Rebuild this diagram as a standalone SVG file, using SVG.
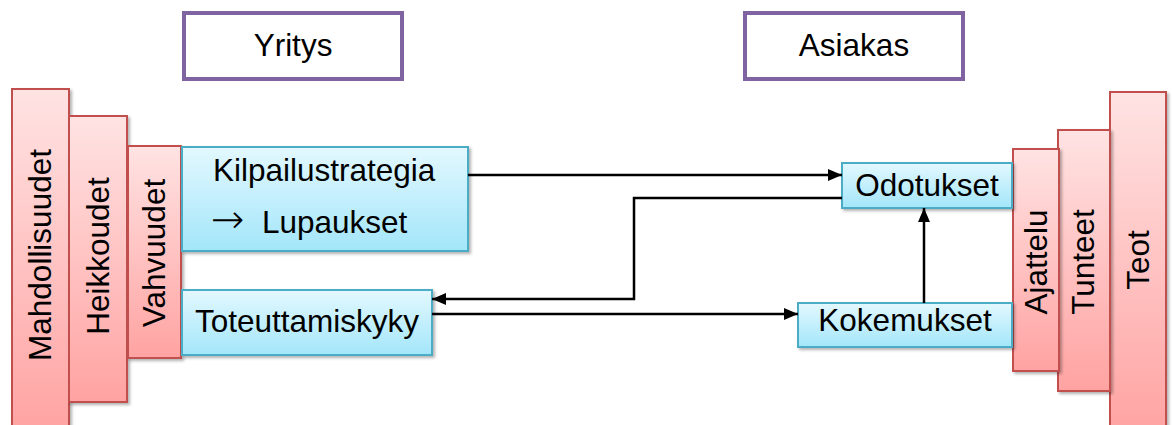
<svg xmlns="http://www.w3.org/2000/svg" width="1172" height="425" viewBox="0 0 1172 425">
<style>
.bar{fill:url(#red);stroke:#C0504D;stroke-width:2;filter:url(#sh)}
.box{fill:url(#blue);stroke:#4BACC6;stroke-width:2;filter:url(#sh)}
.hdr{fill:#fff;stroke:#8064A2;stroke-width:4}
.t{font-family:"Liberation Sans",Arial,sans-serif;font-size:31.5px;fill:#000}
.c{text-anchor:middle}
.v{text-anchor:middle;dominant-baseline:central}
.ln{fill:none;stroke:#000;stroke-width:2.5}
.ar{font-family:"DejaVu Sans",sans-serif;font-weight:200;font-size:40px}
</style>
<defs>
<linearGradient id="red" x1="0" y1="0" x2="0" y2="1">
<stop offset="0" stop-color="#FFE3E3"/>
<stop offset="1" stop-color="#FFA3A2"/>
</linearGradient>
<linearGradient id="blue" x1="0" y1="0" x2="0" y2="1">
<stop offset="0" stop-color="#E3F8FE"/>
<stop offset="1" stop-color="#A3E6FA"/>
</linearGradient>
<filter id="sh" x="-20%" y="-20%" width="140%" height="140%">
<feDropShadow dx="2" dy="2" stdDeviation="1.5" flood-color="#000" flood-opacity="0.3"/>
</filter>
<marker id="ah" markerWidth="14" markerHeight="12" viewBox="0 0 14 12" refX="14" refY="6" orient="auto" markerUnits="userSpaceOnUse">
<path d="M0,0 L14,6 L0,12 z" fill="#000"/>
</marker>
</defs>

<g id="yritys"><rect class="hdr" x="184" y="13" width="218" height="66"/><text class="t c" x="293" y="56">Yritys</text></g>
<g id="asiakas"><rect class="hdr" x="745" y="13" width="218" height="66"/><text class="t c" x="854" y="56">Asiakas</text></g>

<g id="mahdollisuudet"><rect class="bar" x="12" y="89" width="57" height="345"/><text class="t v" transform="translate(40,255) rotate(-90)">Mahdollisuudet</text></g>
<g id="heikkoudet"><rect class="bar" x="69" y="116" width="58" height="286"/><text class="t v" transform="translate(98,256) rotate(-90)">Heikkoudet</text></g>
<g id="vahvuudet"><rect class="bar" x="128" y="146" width="53" height="212"/><text class="t v" transform="translate(154,253) rotate(-90)">Vahvuudet</text></g>

<g id="teot"><rect class="bar" x="1110" y="92" width="56" height="345"/><text class="t v" transform="translate(1138,260) rotate(-90)">Teot</text></g>
<g id="tunteet"><rect class="bar" x="1058" y="130" width="52" height="261"/><text class="t v" transform="translate(1083,262) rotate(-90)">Tunteet</text></g>
<g id="ajattelu"><rect class="bar" x="1013" y="149" width="46" height="222"/><text class="t v" transform="translate(1036,262) rotate(-90)">Ajattelu</text></g>

<g id="kilpailustrategia"><rect class="box" x="182" y="147" width="286" height="104"/><text class="t" x="213" y="181">Kilpailustrategia</text><text class="t" x="211" y="233"><tspan class="ar">→</tspan><tspan x="262">Lupaukset</tspan></text></g>
<g id="toteuttamiskyky"><rect class="box" x="182" y="290" width="250" height="65"/><text class="t c" x="307" y="332">Toteuttamiskyky</text></g>
<g id="odotukset"><rect class="box" x="842" y="163" width="170" height="45"/><text class="t c" x="927" y="196">Odotukset</text></g>
<g id="kokemukset"><rect class="box" x="798" y="303" width="214" height="44"/><text class="t c" x="905" y="331">Kokemukset</text></g>

<g id="connectors">
<path class="ln" d="M468,175 H842" marker-end="url(#ah)"/>
<path class="ln" d="M842,198 H634 V299 H432" marker-end="url(#ah)"/>
<path class="ln" d="M432,314 H798" marker-end="url(#ah)"/>
<path class="ln" d="M924,303 V208" marker-end="url(#ah)"/>
</g>
</svg>
